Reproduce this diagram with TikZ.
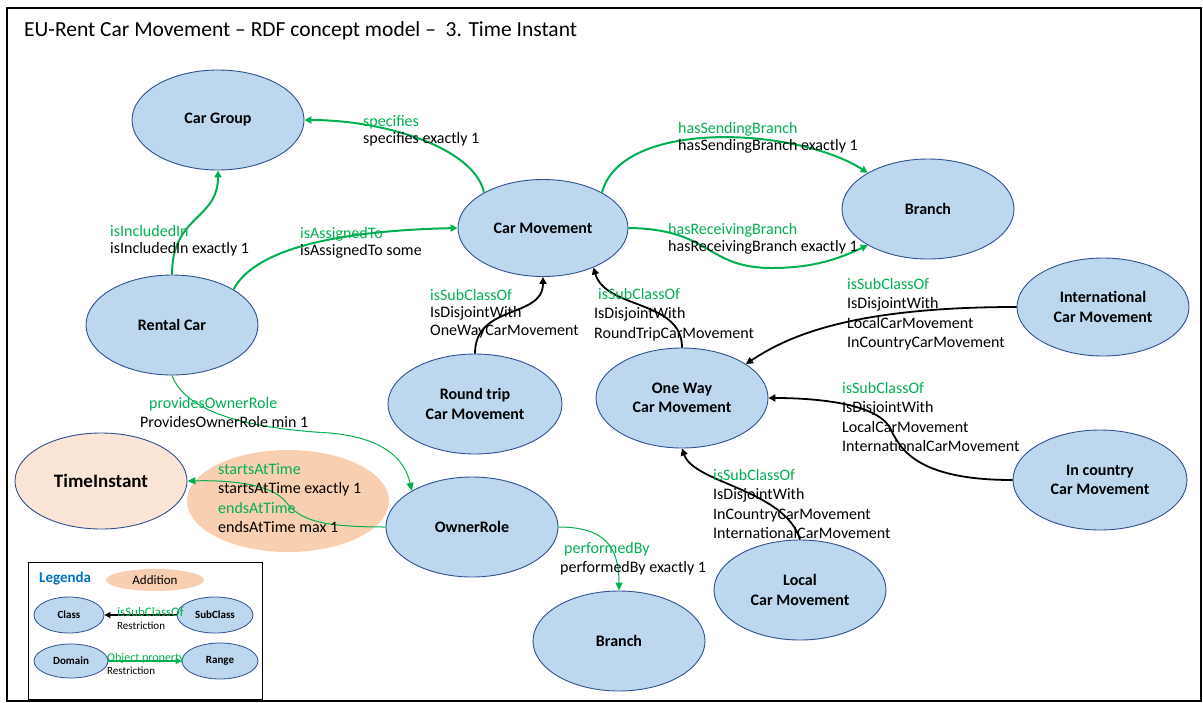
\documentclass[tikz,border=0pt]{standalone}
\usepackage{fontspec}
\setmainfont{Carlito}
\usetikzlibrary{shapes.geometric,arrows.meta}
\definecolor{nfill}{HTML}{BDD7EE}
\definecolor{ndraw}{HTML}{2F528F}
\definecolor{grn}{HTML}{00B050}
\definecolor{peach}{HTML}{F9CFB2}
\definecolor{tifill}{HTML}{FBE5D6}
\definecolor{legblue}{HTML}{0070C0}
\tikzset{
  cls/.style={ellipse, draw=ndraw, fill=nfill, line width=0.9pt, inner sep=0pt,
    minimum width=172pt, minimum height=100pt, align=center,
    font=\fontsize{16}{19.5}\selectfont\bfseries},
  lcls/.style={ellipse, draw=ndraw, fill=nfill, line width=0.8pt, inner sep=0pt,
    minimum width=74pt, minimum height=35pt, font=\fontsize{11}{13}\selectfont\bfseries},
  lbl/.style={anchor=north west, inner sep=0pt, align=left,
    font=\fontsize{16}{17.5}\selectfont},
  lblb/.style={anchor=north west, inner sep=0pt, align=left,
    font=\fontsize{16}{19.5}\selectfont},
  llbl/.style={anchor=north west, inner sep=0pt, align=left,
    font=\fontsize{11}{13}\selectfont},
  gthick/.style={draw=grn, line width=2pt, -{Triangle[length=7pt,width=7pt]}},
  gthin/.style={draw=grn, line width=1pt, -{Triangle[length=8pt,width=7pt]}},
  sub/.style={draw=black, line width=1.8pt, -{Triangle[length=7pt,width=7pt]}},
}
\newcommand{\gt}[1]{\textcolor{grn}{#1}}
\begin{document}
\begin{tikzpicture}[x=1pt,y=-1pt]
\useasboundingbox (0,0) rectangle (1203,702);
\draw[line width=1.2pt] (7,8) rectangle (1201,701);
\node[anchor=west, inner sep=0pt, font=\fontsize{21.5}{25}\selectfont] (title) at (24,31)
  {EU-Rent Car Movement – RDF concept model – \ 3. Time Instant};

% addition background
\node[ellipse, fill=peach, minimum width=202pt, minimum height=102pt, inner sep=0pt] (add) at (288,501) {};

% classes
\node[cls] (cg) at (218,120) {Car Group};
\node[cls, minimum width=170pt, minimum height=97pt] (cm) at (543,228) {Car Movement};
\node[cls] (br) at (928,209) {Branch};
\node[cls] (rc) at (172,325) {Rental Car};
\node[cls, minimum width=174pt] (rt) at (475,404) {Round trip\\Car Movement};
\node[cls] (ow) at (682,398) {One Way\\Car Movement};
\node[cls, minimum height=98pt] (int) at (1103,307) {International\\Car Movement};
\node[cls, minimum width=174pt] (ic) at (1100,480) {In country\\Car Movement};
\node[cls] (lc) at (800,590) {Local\\Car Movement};
\node[cls] (or) at (472,527) {OwnerRole};
\node[cls] (br2) at (619,641) {Branch};
\node[cls, fill=tifill, minimum height=96pt, font=\fontsize{19}{22}\selectfont\bfseries] (ti) at (101,481) {TimeInstant};

% green object properties
\draw[gthick] (cm.149) .. controls +(-10,-45) and +(80,0) .. (cg.east);
\draw[gthick] (rc.north) .. controls +(0,-60) and +(0,50) .. (cg.south);
\draw[gthick] (rc.30) .. controls +(20,-38) and +(-130,3) .. (cm.west);
\draw[gthick] (cm.31) .. controls +(20,-75) and +(-70,-45) .. (br.149);
\draw[gthick] (cm.east) .. controls (712,229) and (705,268) .. (772,268)
  .. controls (815,268) and (840,258) .. (br.211);
\draw[gthin] (rc.south) .. controls (185,410) and (240,428) .. (330,433)
  .. controls (385,438) and (405,460) .. (or.149);
\draw[gthin] (or.west) .. controls (320,527) and (300,520) .. (286,502)
  .. controls (272,484) and (230,480) .. (ti.east);
\draw[gthin] (or.east) .. controls +(45,0) and +(0,-45) .. (br2.north);

% subclass relations
\draw[sub] (rt.north) .. controls +(0,-50) and +(0,42) .. (cm.south);
\draw[sub] (ow.north) .. controls +(0,-48) and +(12,42) .. (cm.-38);
\draw[sub] (int.west) .. controls +(-160,0) and +(45,-30) .. (ow.28);
\draw[sub] (ic.west) .. controls (915,480) and (900,448) .. (890,428)
  .. controls (876,402) and (810,398) .. (ow.east);
\draw[sub] (lc.north) .. controls +(-15,-50) and +(12,35) .. (ow.south);

% labels
\node[lbl] (l1) at (363,115) {\gt{specifies}\\specifies exactly 1};
\node[lbl] (l2) at (110,225) {\gt{isIncludedIn}\\isIncludedIn exactly 1};
\node[lbl] (l3) at (300,227) {\gt{isAssignedTo}\\isAssignedTo some};
\node[lbl] (l4) at (678,122) {\gt{hasSendingBranch}\\hasSendingBranch exactly 1};
\node[lbl] (l5) at (668,223) {\gt{hasReceivingBranch}\\hasReceivingBranch exactly 1};
\node[lbl] (l6) at (430,289) {\gt{isSubClassOf}\\IsDisjointWith\\OneWayCarMovement};
\node[lblb] (l7) at (594,288) {\gt{\hspace*{4pt}isSubClassOf}\\IsDisjointWith\\RoundTripCarMovement};
\node[lblb] (l8) at (847,278) {\gt{isSubClassOf}\\IsDisjointWith\\LocalCarMovement\\InCountryCarMovement};
\node[lblb] (l9) at (842,382) {\gt{isSubClassOf}\\IsDisjointWith\\LocalCarMovement\\InternationalCarMovement};
\node[lblb] (l10) at (713,469) {\gt{isSubClassOf}\\IsDisjointWith\\InCountryCarMovement\\InternationalCarMovement};
\node[lblb] (l11) at (140,397) {\gt{\hspace*{9pt}providesOwnerRole}\\ProvidesOwnerRole min 1};
\node[lblb] (l12) at (218,463) {\gt{startsAtTime}\\startsAtTime exactly 1\\\gt{endsAtTime}\\endsAtTime max 1};
\node[lblb] (l13) at (560,542) {\gt{\hspace*{4pt}performedBy}\\performedBy exactly 1};

% legend
\draw[line width=1pt] (28,562) rectangle (262,699);
\node[anchor=west, inner sep=0pt, text=legblue, font=\fontsize{15}{17}\selectfont\bfseries] (leg) at (39,578) {Legenda};
\node[ellipse, fill=peach, minimum width=98pt, minimum height=22pt, inner sep=0pt,
  font=\fontsize{13}{15}\selectfont] (ladd) at (155,580) {Addition};
\node[lcls, minimum width=70pt, minimum height=36pt] (lcl) at (69,615) {Class};
\node[lcls, minimum width=76pt, minimum height=36pt] (lsc) at (215,615) {SubClass};
\node[lcls, minimum width=74pt, minimum height=34pt] (ldm) at (71,661) {Domain};
\node[lcls, minimum width=76pt, minimum height=36pt] (lrg) at (220,661) {Range};
\draw[draw=black, line width=1.4pt, -{Triangle[length=6pt,width=6pt]}] (lsc.west) -- (lcl.east);
\draw[draw=grn, line width=1.6pt, -{Triangle[length=6pt,width=6pt]}] (ldm.east) -- (lrg.west);
\node[llbl] (ll1) at (117,607) {\gt{\fontsize{13}{13}\selectfont isSubClassOf}\\Restriction};
\node[llbl] (ll2) at (107,653) {\gt{\fontsize{12}{13}\selectfont Object property}\\Restriction};
\end{tikzpicture}
\end{document}
